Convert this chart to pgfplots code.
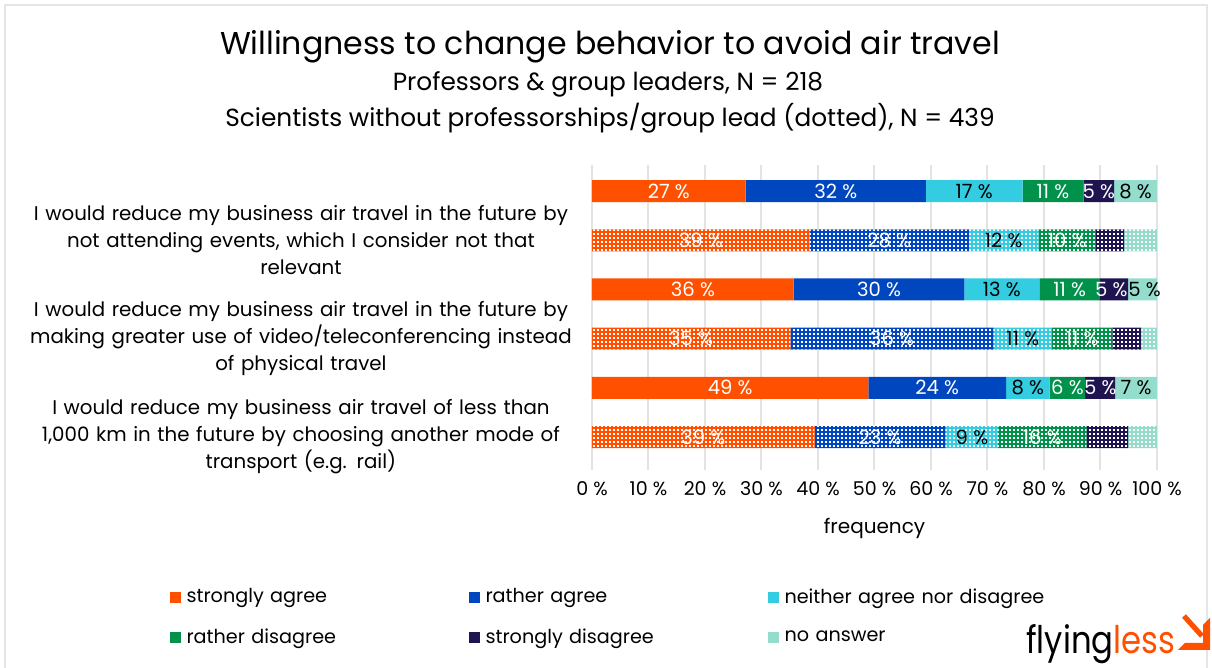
\documentclass[border=0pt]{standalone}
\usepackage{pgfplots}
\pgfplotsset{compat=1.18}
\usepackage{fontspec}
\setmainfont{Poppins}
\usetikzlibrary{patterns}

\definecolor{cOrange}{RGB}{255,80,0}
\definecolor{cBlue}{RGB}{0,70,190}
\definecolor{cCyan}{RGB}{51,204,224}
\definecolor{cGreen}{RGB}{0,145,74}
\definecolor{cNavy}{RGB}{31,20,80}
\definecolor{cMint}{RGB}{148,220,204}

% small white squares laid over the bars of the non-professors
\pgfdeclarepatternformonly{whitedots}{\pgfqpoint{-0.1pt}{-0.1pt}}{\pgfqpoint{2.1pt}{2.1pt}}{\pgfqpoint{2pt}{2pt}}{%
  \pgfpathrectangle{\pgfqpoint{0.5pt}{0.5pt}}{\pgfqpoint{0.9pt}{0.9pt}}\pgfusepath{fill}}

\tikzset{
  solid bar/.style={fill=#1, draw=none},
  dot bar/.style={fill=#1, draw=none, postaction={pattern=whitedots, pattern color=white}},
  lbl/.style={font=\fontsize{9.8}{11}\selectfont},
}

\begin{document}
\begin{tikzpicture}
\path[use as bounding box] (0,0) rectangle (606pt,334pt);
\draw[gray!20, line width=0.8pt] (2.5pt,-5pt) rectangle (603.5pt,331.5pt);

\node[font=\fontsize{15.8}{18}\selectfont] at (305pt,310.5pt) {Willingness to change behavior to avoid air travel};
\node[font=\fontsize{12.4}{14}\selectfont] at (304pt,292pt) {Professors \& group leaders, N = 218};
\node[font=\fontsize{12.4}{14}\selectfont] at (305pt,275pt) {Scientists without professorships/group lead (dotted), N = 439};

\begin{axis}[
  at={(296pt,99pt)}, anchor=south west,
  scale only axis, width=282.5pt, height=152.5pt,
  xbar stacked, bar width=11pt,
  xmin=0, xmax=100, ymin=0.33, ymax=6.53,
  xtick={0,10,...,100},
  xticklabels={0 \%,10 \%,20 \%,30 \%,40 \%,50 \%,60 \%,70 \%,80 \%,90 \%,100 \%},
  ytick={1,3,5},
  yticklabels={
    {I would reduce my business air travel of less than\\1,000 km in the future by choosing another mode of\\transport (e.g. rail)},
    {I would reduce my business air travel in the future by\\making greater use of video/teleconferencing instead\\of physical travel},
    {I would reduce my business air travel in the future by\\not attending events, which I consider not that\\relevant}},
  xmajorgrids, grid style={line width=1pt, color=gray!22},
  axis line style={draw=none}, major tick length=0pt,
  xticklabel style={font=\fontsize{9.5}{11}\selectfont, yshift=-2pt},
  yticklabel style={font=\fontsize{9.9}{13.5}\selectfont, text width=284pt, align=center},
  /pgf/number format/assume math mode=true,
  xlabel={frequency},
  xlabel style={font=\fontsize{10}{12}\selectfont, at={(axis description cs:0.5,-0.193)}, anchor=center},
  legend columns=3,
  legend image code/.code={\fill[#1,draw=none] (0pt,-2.75pt) rectangle (5.5pt,2.75pt);},
  legend style={draw=none, fill=none, font=\fontsize{9.6}{11}\selectfont,
    at={(axis description cs:-0.759,-0.361)}, anchor=north west,
    nodes={text width=139pt, inner xsep=2pt, align=left},
    legend cell align=left,
    /tikz/every odd column/.append style={column sep=1pt},
    row sep=7.5pt},
]
% professors & group leaders (solid), rows 6, 4, 2
\addplot[solid bar=cOrange] coordinates {(27.2,6) (0,5) (35.7,4) (0,3) (48.9,2) (0,1)};
\addplot[solid bar=cBlue]   coordinates {(31.9,6) (0,5) (30.2,4) (0,3) (24.4,2) (0,1)};
\addplot[solid bar=cCyan]   coordinates {(17.1,6) (0,5) (13.3,4) (0,3) (7.7,2) (0,1)};
\addplot[solid bar=cGreen]  coordinates {(10.8,6) (0,5) (10.7,4) (0,3) (6.3,2) (0,1)};
\addplot[solid bar=cNavy]   coordinates {(5.4,6) (0,5) (5.0,4) (0,3) (5.3,2) (0,1)};
\addplot[solid bar=cMint]   coordinates {(7.6,6) (0,5) (5.1,4) (0,3) (7.4,2) (0,1)};
% scientists without professorship (dotted), rows 5, 3, 1
\addplot[dot bar=cOrange] coordinates {(0,6) (38.5,5) (0,4) (35.1,3) (0,2) (39.4,1)};
\addplot[dot bar=cBlue]   coordinates {(0,6) (28.2,5) (0,4) (36.0,3) (0,2) (23.2,1)};
\addplot[dot bar=cCyan]   coordinates {(0,6) (12.3,5) (0,4) (10.3,3) (0,2) (9.3,1)};
\addplot[dot bar=cGreen]  coordinates {(0,6) (10.2,5) (0,4) (10.7,3) (0,2) (15.6,1)};
\addplot[dot bar=cNavy]   coordinates {(0,6) (5.0,5) (0,4) (5.1,3) (0,2) (7.4,1)};
\addplot[dot bar=cMint]   coordinates {(0,6) (5.8,5) (0,4) (2.8,3) (0,2) (5.1,1)};
\legend{strongly agree, rather agree, neither agree nor disagree, rather disagree, strongly disagree, no answer}
\end{axis}

% value labels, centred in each segment
\begin{axis}[
  at={(296pt,99pt)}, anchor=south west,
  scale only axis, width=282.5pt, height=152.5pt,
  xmin=0, xmax=100, ymin=0.33, ymax=6.53,
  hide axis, clip=false,
]
\addplot[draw=none, nodes near coords, point meta=explicit symbolic,
  every node near coord/.append style={lbl, text=white, anchor=center, inner sep=0pt}]
  coordinates {
  (13.6,6) [27 \%] (43.15,6) [32 \%] (81.6,6) [11 \%] (89.7,6) [5 \%]
  (19.25,5) [39 \%] (52.6,5) [28 \%] (84.1,5) [10 \%]
  (17.85,4) [36 \%] (50.8,4) [30 \%] (84.55,4) [11 \%] (91.9,4) [5 \%]
  (17.55,3) [35 \%] (53.1,3) [36 \%] (86.75,3) [11 \%]
  (24.45,2) [49 \%] (61.1,2) [24 \%] (84.15,2) [6 \%] (89.95,2) [5 \%]
  (19.7,1) [39 \%] (51.0,1) [23 \%] (79.7,1) [16 \%]
  };
\addplot[draw=none, nodes near coords, point meta=explicit symbolic,
  every node near coord/.append style={lbl, text=black, anchor=center, inner sep=0pt}]
  coordinates {
  (67.65,6) [17 \%] (96.2,6) [8 \%]
  (72.85,5) [12 \%]
  (72.55,4) [13 \%] (97.8,4) [5 \%]
  (76.25,3) [11 \%]
  (77.15,2) [8 \%] (96.3,2) [7 \%]
  (67.25,1) [9 \%]
  };
\end{axis}

% flyingless logo
\node[anchor=west, inner sep=0pt, xscale=0.85, transform shape,
  font=\fontsize{19}{19}\selectfont] at (513pt,12pt) {flying\textcolor{cOrange}{less}};
\draw[cOrange, line width=2.6pt] (592pt,26pt) -- (601pt,16pt);
\fill[cOrange] (605pt,25pt) -- (605pt,9pt) -- (589pt,9pt) -- (592.5pt,12.5pt) -- (601.5pt,12.5pt) -- (601.5pt,21.5pt) -- cycle;
\end{tikzpicture}
\end{document}
